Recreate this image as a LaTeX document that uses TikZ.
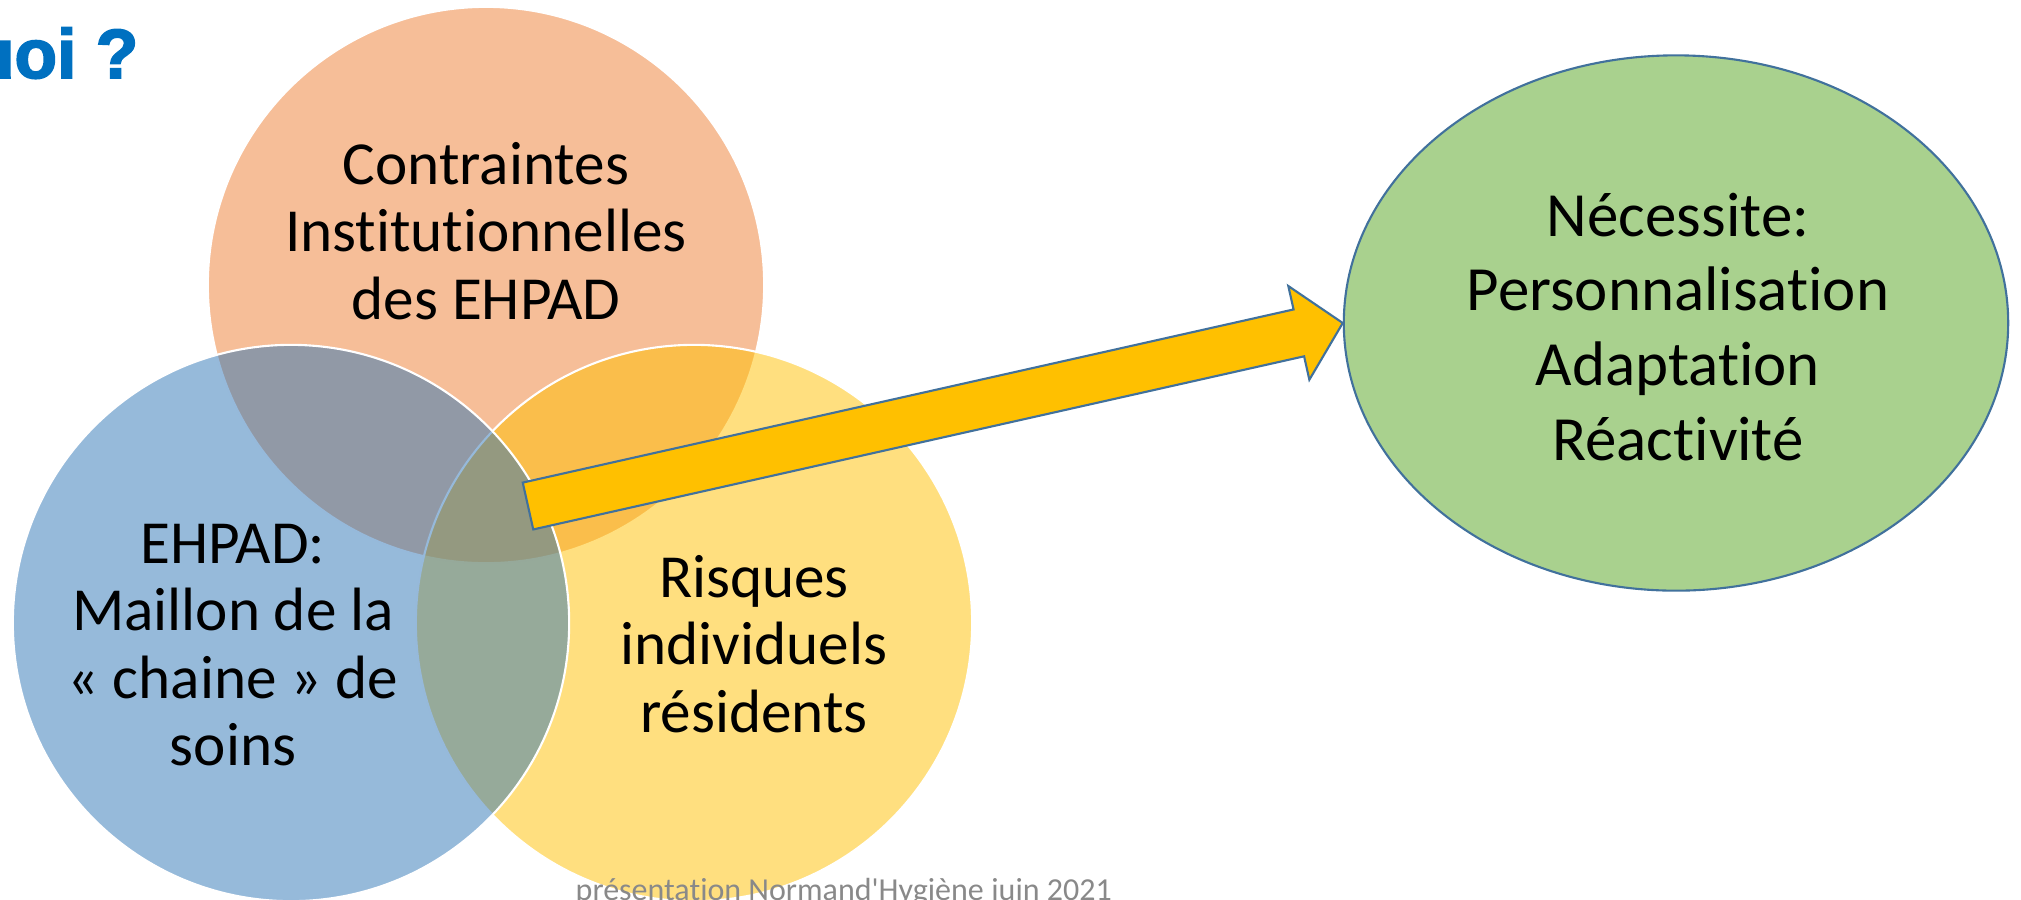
\documentclass[tikz,border=0pt]{standalone}
\usepackage{fontspec}
\setmainfont{Carlito}[Ligatures={NoCommon}]
\newfontfamily\titrefont{Liberation Sans}[BoldFeatures={FakeBold=2.5}]
\newfontfamily\piedfont{Carlito}[Ligatures={TeXOff,NoCommon}]
\usetikzlibrary{calc,positioning,shapes.geometric}
\definecolor{orangeaccent}{HTML}{ED7D31}
\definecolor{jauneaccent}{HTML}{FFC000}
\definecolor{bleuaccent}{HTML}{2E75B6}
\definecolor{vertpastel}{HTML}{A9D18E}
\definecolor{bordbleu}{HTML}{41719C}
\definecolor{titrebleu}{HTML}{0070C0}
\definecolor{grispied}{HTML}{898989}
\tikzset{
  rond/.style={
    circle,
    minimum size=5.56cm,
    inner sep=0pt,
    draw=white,
    line width=.6pt,
    fill opacity=.5
  },
  legende/.style={
    align=center,
    inner sep=0pt,
    font=\fontsize{17.4}{19.1}\selectfont
  },
  fleche/.style={
    draw=bordbleu,
    line width=.6pt,
    fill=jauneaccent,
    line join=miter
  }
}

\begin{document}
\begin{tikzpicture}[x=.01cm, y=-.01cm]
\clip (0,0) rectangle (2021,899);
% les trois cercles
\node[rond, fill=orangeaccent] (contraintes) at (486,285) {};
\node[rond, fill=jauneaccent] (risques) at (694,623) {};
\node[rond, fill=bleuaccent] (ehpad) at (291,623) {};
\node[legende] (t-contraintes) at (486,231) {Contraintes\\Institutionnelles\\des EHPAD};
\node[legende] (t-ehpad) at (233,645) {EHPAD:\\Maillon de la\\« chaine » de\\soins};
\node[legende] (t-risques) at (754,644) {Risques\\individuels\\résidents};
% conclusion
\node[ellipse, draw=bordbleu, line width=.6pt, fill=vertpastel,
      minimum width=6.64cm, minimum height=5.35cm, inner sep=0pt] (necessite) at (1676,323) {};
\node[legende, font=\fontsize{17.9}{21.3}\selectfont] (t-necessite) at (1678,327)
      {Nécessite:\\Personnalisation\\Adaptation\\Réactivité};
% grosse fleche
\coordinate (depart) at (528,506);
\coordinate (pointe) at (necessite.west);
\coordinate (col) at ($(pointe)!.45cm!(depart)$);
\filldraw[fleche] ($(depart)!.24cm!90:(pointe)$) -- ($(col)!.24cm!90:(pointe)$)
  -- ($(col)!.48cm!90:(pointe)$) -- (pointe) -- ($(col)!.48cm!-90:(pointe)$)
  -- ($(col)!.24cm!-90:(pointe)$) -- ($(depart)!.24cm!-90:(pointe)$) -- cycle;
% titre et pied de page
\node[anchor=base east, inner sep=0pt, text=titrebleu,
      font=\titrefont\bfseries\fontsize{19.8}{23}\selectfont] (titre) at (139,78) {uoi ?};
\node[anchor=base west, inner sep=0pt, text=grispied,
      font=\piedfont\fontsize{9.1}{11}\selectfont] (pied) at (575,900)
      {présentation Normand'Hygiène juin 2021};
\end{tikzpicture}
\end{document}
